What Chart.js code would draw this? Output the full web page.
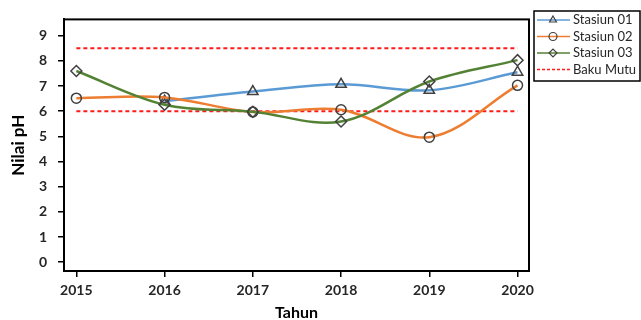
<!DOCTYPE html>
<html>
<head>
<meta charset="utf-8">
<script src="https://cdn.jsdelivr.net/npm/chart.js@4.4.1/dist/chart.umd.min.js"></script>
<style>
  html, body { margin: 0; padding: 0; background: #fff; }
  #wrap { position: relative; width: 641px; height: 320px; }
</style>
</head>
<body>
<div id="wrap"><canvas id="c" width="641" height="320"></canvas></div>
<script>
// Years of observation
const years = [2015, 2016, 2017, 2018, 2019, 2020];
// pH per station (no reading for Stasiun 01 in 2015)
const stasiun01 = [null, 6.4, 6.78, 7.07, 6.83, 7.55];
const stasiun02 = [6.52, 6.55, 5.97, 6.06, 4.97, 7.03];
const stasiun03 = [7.6, 6.26, 5.98, 5.59, 7.18, 8.03];
// Quality standard limits (Baku Mutu)
const bakuMutuUpper = [8.5, 8.5];
const bakuMutuLower = [6.0, 6.0];
const bakuMutuYears = [2015, 2020];
// Axis ticks
const yTicks = [0, 1, 2, 3, 4, 5, 6, 7, 8, 9];
const xTicks = years;

const FONT = 'Lato, "Open Sans", sans-serif';
const INK = '#262626';
const MARK = '#404040';

const pts = (xs, ys) => xs.map((x, i) => ({ x: x, y: ys[i] }));

const series = [
  { label: 'Stasiun 01', data: pts(years, stasiun01), borderColor: '#5B9BD5', pointStyle: 'triangle', pointRadius: 6 },
  { label: 'Stasiun 02', data: pts(years, stasiun02), borderColor: '#ED7D31', pointStyle: 'circle', pointRadius: 5 },
  { label: 'Stasiun 03', data: pts(years, stasiun03), borderColor: '#548235', pointStyle: 'rectRot', pointRadius: 5.5 }
].map((s, i) => Object.assign({
  borderWidth: 2.5,
  tension: 0.35,
  spanGaps: false,
  pointBorderColor: MARK,
  pointBackgroundColor: 'rgba(255,255,255,0)',
  pointBorderWidth: 1.5,
  order: 3 - i
}, s));

const limitStyle = {
  borderColor: '#FF1A1A',
  borderWidth: 2,
  borderDash: [4, 3],
  pointRadius: 0,
  tension: 0,
  order: 10
};

const datasets = series.concat([
  Object.assign({ label: 'Baku Mutu', data: pts(bakuMutuYears, bakuMutuUpper) }, limitStyle),
  Object.assign({ label: 'Baku Mutu', data: pts(bakuMutuYears, bakuMutuLower), hideInLegend: true }, limitStyle)
]);

// Frame around the plot area
const frame = {
  id: 'frame',
  afterDatasetsDraw(chart) {
    const a = chart.chartArea, ctx = chart.ctx;
    ctx.save();
    ctx.strokeStyle = '#000';
    ctx.lineWidth = 2;
    ctx.strokeRect(a.left, a.top, a.right - a.left, a.bottom - a.top);
    ctx.restore();
  }
};

// Boxed legend to the right of the plot
const boxLegend = {
  id: 'boxLegend',
  afterDraw(chart) {
    const ctx = chart.ctx;
    const x0 = 534, y0 = 11, w = 106, h = 70;
    ctx.save();
    ctx.fillStyle = '#fff';
    ctx.fillRect(x0, y0, w, h);
    ctx.strokeStyle = '#000';
    ctx.lineWidth = 1.5;
    ctx.strokeRect(x0, y0, w, h);
    const rows = chart.data.datasets.filter(d => !d.hideInLegend);
    rows.forEach((d, i) => {
      const cy = 20 + i * 16.5;
      ctx.save();
      ctx.strokeStyle = d.borderColor;
      ctx.lineWidth = 1.5;
      if (!d.pointStyle) ctx.setLineDash([3, 2]);
      ctx.beginPath();
      ctx.moveTo(537, cy);
      ctx.lineTo(570, cy);
      ctx.stroke();
      ctx.restore();
      if (d.pointStyle) {
        ctx.save();
        ctx.strokeStyle = MARK;
        ctx.fillStyle = 'rgba(255,255,255,0)';
        ctx.lineWidth = 1.2;
        Chart.helpers.drawPoint(ctx, { pointStyle: d.pointStyle, radius: 4, borderWidth: 1.2, rotation: 0 }, 553, cy);
        ctx.restore();
      }
      ctx.fillStyle = INK;
      ctx.font = '13px ' + FONT;
      ctx.textBaseline = 'middle';
      ctx.textAlign = 'left';
      ctx.fillText(d.label, 573, cy);
    });
    ctx.restore();
  }
};

new Chart(document.getElementById('c'), {
  type: 'line',
  data: { datasets: datasets },
  options: {
    responsive: false,
    animation: false,
    layout: { padding: { top: 11, right: 112, left: 0, bottom: 0 } },
    plugins: { legend: { display: false }, tooltip: { enabled: false } },
    scales: {
      x: {
        type: 'linear',
        min: 2014.86,
        max: 2020.13,
        afterBuildTicks: s => { s.ticks = xTicks.map(v => ({ value: v })); },
        afterFit: s => { s.height = 49; },
        grid: { display: true, drawOnChartArea: false, drawTicks: true, tickLength: 6, color: '#000', lineWidth: 1.5 },
        border: { display: true, color: '#000', width: 2 },
        ticks: {
          padding: 5,
          color: INK,
          font: { family: FONT, size: 14, weight: 'bold' },
          maxRotation: 0,
          callback: v => String(v)
        },
        title: {
          display: true,
          text: 'Tahun',
          color: '#000',
          font: { family: FONT, size: 16, weight: 'bold' },
          padding: { top: 0, bottom: -2 }
        }
      },
      y: {
        min: -0.35,
        max: 9.65,
        afterBuildTicks: s => { s.ticks = yTicks.map(v => ({ value: v })); },
        afterFit: s => { s.width = 64; },
        grid: { display: true, drawOnChartArea: false, drawTicks: true, tickLength: 6, color: '#000', lineWidth: 1.5 },
        border: { display: true, color: '#000', width: 2 },
        ticks: {
          padding: 11,
          color: INK,
          font: { family: FONT, size: 14, weight: 'bold' },
          callback: v => String(v)
        },
        title: {
          display: true,
          text: 'Nilai pH',
          color: '#000',
          font: { family: FONT, size: 17, weight: 'bold' },
          padding: { top: 8, bottom: 0 }
        }
      }
    }
  },
  plugins: [frame, boxLegend]
});
</script>
</body>
</html>
